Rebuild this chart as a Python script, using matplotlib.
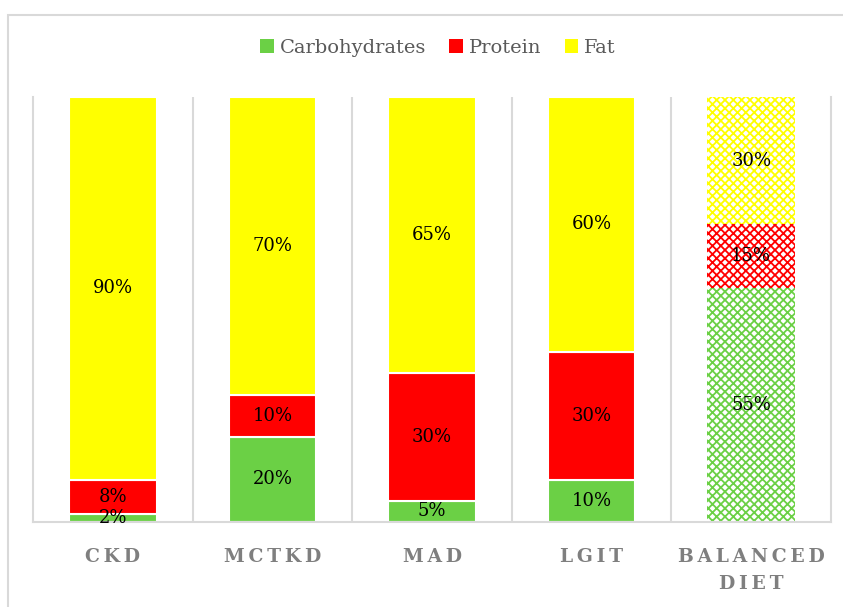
"""Macronutrient split of ketogenic diets vs a balanced diet."""

import matplotlib.pyplot as plt
from matplotlib.patches import Rectangle
import numpy as np

categories = ["CKD", "MCTKD", "MAD", "LGIT", "BALANCED\nDIET"]
carbs = [2, 20, 5, 10, 55]
protein = [8, 10, 30, 30, 15]
fat = [90, 70, 65, 60, 30]
series_names = ["Carbohydrates", "Protein", "Fat"]
colors = ["#6bd045", "#ff0000", "#ffff00"]

plt.rcParams["font.family"] = ["DejaVu Serif"]
plt.rcParams["hatch.linewidth"] = 1.3

W, H = 843, 607
fig = plt.figure(figsize=(W / 100, H / 100), dpi=100)
ax = fig.add_axes([33 / W, (H - 522) / H, (831 - 33) / W, (522 - 97) / H])

# outer chart frame (cut off on the right and bottom like the source)
fig.patches.append(Rectangle((8 / W, -0.1), 1.2, (H - 15) / H + 0.1,
                             transform=fig.transFigure, fill=False,
                             edgecolor="#d9d9d9", linewidth=1.5))

x = np.arange(len(categories))
width = 0.55
bottom = np.zeros(len(categories))
hatched = len(categories) - 1

for name, vals, col in zip(series_names, [carbs, protein, fat], colors):
    vals = np.array(vals, dtype=float)
    for i in range(len(categories)):
        if i == hatched:
            ax.bar(x[i], vals[i], width, bottom=bottom[i], facecolor="white",
                   edgecolor=col, hatch="xxxx", linewidth=0, zorder=2)
        else:
            ax.bar(x[i], vals[i], width, bottom=bottom[i], color=col,
                   edgecolor="white", linewidth=1.5, zorder=2)
        ax.text(x[i], bottom[i] + vals[i] / 2, f"{int(vals[i])}%",
                ha="center", va="center", fontsize=13, color="black", zorder=3)
    ax.bar(np.nan, 0, color=col, label=name)
    bottom += vals

ax.set_xlim(-0.5, len(categories) - 0.5)
ax.set_ylim(0, 100)
ax.set_yticks([])
for b in np.arange(0.5, len(categories) - 0.5):
    ax.axvline(b, color="#d9d9d9", linewidth=1.5, zorder=1)
for side in ["left", "right", "bottom"]:
    ax.spines[side].set_color("#d9d9d9")
    ax.spines[side].set_linewidth(1.5)
ax.spines["top"].set_visible(False)

spaced = ["\n".join("\u2009".join(word) for word in c.split("\n")) for c in categories]
ax.set_xticks(x)
ax.set_xticklabels(spaced, fontsize=13.5, fontweight="bold", color="#7f7f7f",
                   linespacing=1.6)
ax.tick_params(axis="x", length=0, pad=19)

fig.legend(loc="center", bbox_to_anchor=(438 / W, (H - 48) / H), ncol=3,
           frameon=False, fontsize=14, labelcolor="#595959",
           handlelength=0.7, handleheight=0.7, handletextpad=0.3,
           columnspacing=1.2)

fig.savefig("out.png", dpi=100)
